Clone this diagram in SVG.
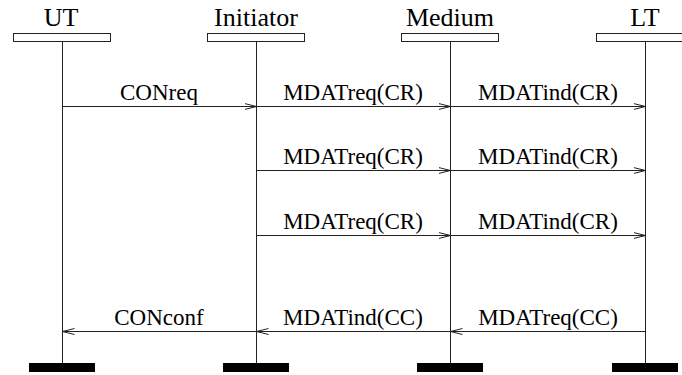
<svg xmlns="http://www.w3.org/2000/svg" width="682" height="375" viewBox="0 0 682 375">
<defs>
<marker id="ah" viewBox="0 0 12 8" refX="12" refY="4" markerWidth="12" markerHeight="8" markerUnits="userSpaceOnUse" orient="auto">
<path d="M0,1 L12,4 L0,7" fill="none" stroke="#222" stroke-width="1"/>
</marker>
</defs>
<style>
.title{font-family:'Liberation Serif','Times New Roman',serif;font-size:26px;fill:#000;text-anchor:middle}
.lbl{font-family:'Liberation Serif','Times New Roman',serif;font-size:23px;fill:#000;text-anchor:middle}
.head{fill:#fff;stroke:#222;stroke-width:1}
.life{stroke:#222;stroke-width:1;fill:none}
.foot{fill:#000}
.msg{stroke:#222;stroke-width:1;fill:none;marker-end:url(#ah)}
</style>
<rect width="682" height="375" fill="#fff"/>
<g id="UT">
<text class="title" x="61" y="26">UT</text>
<line class="life" x1="62.5" y1="42" x2="62.5" y2="363"/>
<rect class="head" x="13.5" y="33.5" width="97" height="8"/>
<rect class="foot" x="29" y="363" width="66" height="9"/>
</g>
<g id="Initiator">
<text class="title" x="256" y="26">Initiator</text>
<line class="life" x1="256.5" y1="42" x2="256.5" y2="363"/>
<rect class="head" x="207.5" y="33.5" width="97" height="8"/>
<rect class="foot" x="223" y="363" width="66" height="9"/>
</g>
<g id="Medium">
<text class="title" x="450" y="26">Medium</text>
<line class="life" x1="450.5" y1="42" x2="450.5" y2="363"/>
<rect class="head" x="401.5" y="33.5" width="97" height="8"/>
<rect class="foot" x="417" y="363" width="66" height="9"/>
</g>
<g id="LT">
<text class="title" x="645" y="26">LT</text>
<line class="life" x1="645.5" y1="42" x2="645.5" y2="363"/>
<rect class="head" x="596.5" y="33.5" width="97" height="8"/>
<rect class="foot" x="612" y="363" width="66" height="9"/>
</g>
<g id="connectors">
<line class="msg" x1="62.5" y1="106.5" x2="256.5" y2="106.5"/>
<text class="lbl" x="159" y="100">CONreq</text>
<line class="msg" x1="256.5" y1="106.5" x2="450.5" y2="106.5"/>
<text class="lbl" x="353" y="100">MDATreq(CR)</text>
<line class="msg" x1="450.5" y1="106.5" x2="645.5" y2="106.5"/>
<text class="lbl" x="548" y="100">MDATind(CR)</text>

<line class="msg" x1="256.5" y1="170.5" x2="450.5" y2="170.5"/>
<text class="lbl" x="353" y="164">MDATreq(CR)</text>
<line class="msg" x1="450.5" y1="170.5" x2="645.5" y2="170.5"/>
<text class="lbl" x="548" y="164">MDATind(CR)</text>

<line class="msg" x1="256.5" y1="235.5" x2="450.5" y2="235.5"/>
<text class="lbl" x="353" y="229">MDATreq(CR)</text>
<line class="msg" x1="450.5" y1="235.5" x2="645.5" y2="235.5"/>
<text class="lbl" x="548" y="229">MDATind(CR)</text>

<line class="msg" x1="256.5" y1="331.5" x2="62.5" y2="331.5"/>
<text class="lbl" x="159" y="325">CONconf</text>
<line class="msg" x1="450.5" y1="331.5" x2="256.5" y2="331.5"/>
<text class="lbl" x="353" y="325">MDATind(CC)</text>
<line class="msg" x1="645.5" y1="331.5" x2="450.5" y2="331.5"/>
<text class="lbl" x="548" y="325">MDATreq(CC)</text>
</g>
</svg>
